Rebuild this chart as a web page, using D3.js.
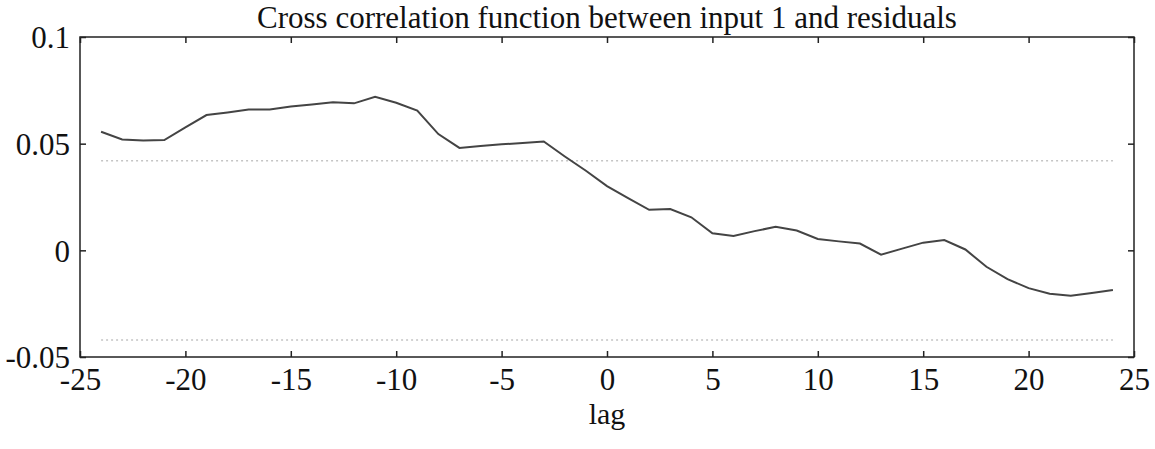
<!DOCTYPE html>
<html>
<head>
<meta charset="utf-8">
<script src="https://cdn.jsdelivr.net/npm/d3@7"></script>
<style>
  body { margin: 0; background: #fff; }
  text { font-family: "Liberation Serif", "Times New Roman", serif; fill: #111; }
</style>
</head>
<body>
<svg id="chart" width="1155" height="449"></svg>
<script>
// cross correlation values, lags -24..24
var lags = d3.range(-24, 25);
var ccf = [0.0556, 0.052, 0.0515, 0.0517, 0.0576, 0.0634, 0.0646, 0.066, 0.066, 0.0674,
           0.0684, 0.0694, 0.0689, 0.072, 0.0692, 0.0655, 0.0545, 0.048, 0.0489, 0.0497,
           0.0503, 0.051, 0.044, 0.0373, 0.0301, 0.0245, 0.019, 0.0194, 0.0155, 0.008,
           0.0067, 0.009, 0.011, 0.0093, 0.0053, 0.0042, 0.0032, -0.002, 0.0008, 0.0036,
           0.0048, 0.0004, -0.0077, -0.0135, -0.0177, -0.0203, -0.0213, -0.020, -0.0186];
var confBound = 0.042;
var xTicks = [-25, -20, -15, -10, -5, 0, 5, 10, 15, 20, 25];
var xTickLabels = ["-25", "-20", "-15", "-10", "-5", "0", "5", "10", "15", "20", "25"];
var yTicks = [-0.05, 0, 0.05, 0.1];
var yTickLabels = ["-0.05", "0", "0.05", "0.1"];

var margin = {top: 37, right: 21, bottom: 92, left: 80};
var svg = d3.select("#chart");
var width = 1155 - margin.left - margin.right;
var height = 449 - margin.top - margin.bottom;

var x = d3.scaleLinear().domain([-25, 25]).range([0, width]);
var y = d3.scaleLinear().domain([-0.05, 0.1]).range([height, 0]);

var g = svg.append("g").attr("transform", "translate(" + margin.left + "," + margin.top + ")");

// confidence bounds (light dotted)
[confBound, -confBound].forEach(function(b) {
  g.append("line")
    .attr("x1", x(-24)).attr("x2", x(24))
    .attr("y1", y(b)).attr("y2", y(b))
    .attr("stroke", "#c4c4c4")
    .attr("stroke-width", 1.5)
    .attr("stroke-dasharray", "2,3");
});

// frame
g.append("rect")
  .attr("width", width).attr("height", height)
  .attr("fill", "none").attr("stroke", "#222").attr("stroke-width", 1.5);

// axes with inward ticks
var xfmt = function(d) { return xTickLabels[xTicks.indexOf(d)]; };
var yfmt = function(d) { return yTickLabels[yTicks.indexOf(d)]; };
var xb = g.append("g").attr("transform", "translate(0," + height + ")")
  .call(d3.axisBottom(x).tickValues(xTicks).tickSize(-6).tickPadding(14).tickFormat(xfmt));
var xt = g.append("g")
  .call(d3.axisTop(x).tickValues(xTicks).tickSize(-6).tickFormat(""));
var yl = g.append("g")
  .call(d3.axisLeft(y).tickValues(yTicks).tickSize(-6).tickPadding(10).tickFormat(yfmt));
var yr = g.append("g").attr("transform", "translate(" + width + ",0)")
  .call(d3.axisRight(y).tickValues(yTicks).tickSize(-6).tickFormat(""));

[xb, xt, yl, yr].forEach(function(a) {
  a.select(".domain").remove();
  a.selectAll(".tick line").attr("stroke", "#222").attr("stroke-width", 1.5);
  a.selectAll("text").attr("font-size", "31px").attr("font-family", "Liberation Serif, serif").attr("fill", "#111");
});
yl.selectAll("text").attr("dy", "0.35em");
xb.selectAll("text").attr("dy", "0.62em");

// ccf line
var line = d3.line()
  .x(function(d, i) { return x(lags[i]); })
  .y(function(d) { return y(d); });

g.append("path")
  .datum(ccf)
  .attr("d", line)
  .attr("fill", "none")
  .attr("stroke", "#444")
  .attr("stroke-width", 2);

// title and x label
svg.append("text")
  .attr("x", margin.left + x(0)).attr("y", 28)
  .attr("text-anchor", "middle")
  .attr("font-size", "31px")
  .text("Cross correlation function between input 1 and residuals");

svg.append("text")
  .attr("x", margin.left + x(0)).attr("y", 424)
  .attr("text-anchor", "middle")
  .attr("font-size", "30px")
  .text("lag");
</script>
</body>
</html>
